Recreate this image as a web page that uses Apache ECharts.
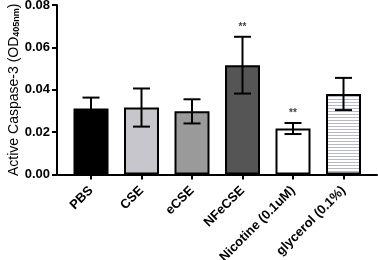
<!DOCTYPE html>
<html>
<head>
<meta charset="utf-8">
<script src="https://cdn.jsdelivr.net/npm/echarts@6/dist/echarts.min.js"></script>
<style>
    html, body { margin:0; padding:0; background:#fff; }
    #chart { width:378px; height:260px; }
</style>
</head>
<body>
<div id="chart"></div>
<script>
var categories = ['PBS', 'CSE', 'eCSE', 'NFeCSE', 'Nicotine (0.1uM)', 'glycerol (0.1%)'];
var means = [0.0311, 0.0316, 0.0298, 0.0516, 0.0217, 0.0380];
var errors = [0.0052, 0.0090, 0.0057, 0.0134, 0.0026, 0.0076];
var marks = ['', '', '', '**', '**', ''];
var yTicks = [0, 0.02, 0.04, 0.06, 0.08];

// 横条纹填充
function stripes(){
    var c = document.createElement('canvas');
    c.width = 4;
    c.height = 3;
    var ctx = c.getContext('2d');
    ctx.fillStyle = '#ffffff';
    ctx.fillRect(0, 0, 4, 3);
    ctx.fillStyle = '#b8b8c6';
    ctx.fillRect(0, 0, 4, 1);
    return {image: c, repeat: 'repeat'};
}

var fills = ['#000000', '#c6c6cc', '#9a9a9a', '#555555', '#ffffff', stripes()];

var barData = [];
var errData = [];
means.forEach(function(m, i){
    barData.push({value: m, itemStyle: {color: fills[i]}});
    errData.push([i, m + errors[i], m - errors[i], marks[i]]);
});

function renderError(params, api){
    var x = api.value(0);
    var top = api.coord([x, api.value(1)]);
    var bot = api.coord([x, api.value(2)]);
    var half = 8.5;
    var style = {stroke: '#000', lineWidth: 2};
    var children = [
        {type: 'line', shape: {x1: top[0], y1: top[1], x2: bot[0], y2: bot[1]}, style: style},
        {type: 'line', shape: {x1: top[0] - half, y1: top[1], x2: top[0] + half, y2: top[1]}, style: style},
        {type: 'line', shape: {x1: bot[0] - half, y1: bot[1], x2: bot[0] + half, y2: bot[1]}, style: style}
    ];
    var mark = marks[params.dataIndex];
    if(mark){
        children.push({
            type: 'text',
            style: {
                text: mark, x: top[0], y: top[1] - 5,
                align: 'center', verticalAlign: 'bottom',
                font: 'bold 10px "Liberation Sans", Arial, sans-serif', fill: '#444'
            }
        });
    }
    return {type: 'group', children: children};
}

var font = '"Liberation Sans", Arial, sans-serif';
var myChart = echarts.init(document.getElementById('chart'));
var option = {
    animation: false,
    grid: [
        {left: 65.75, right: 9.25, top: 5, bottom: 85.5, outerBoundsMode: 'none'},
        {left: 57, right: 1, top: 5, bottom: 85.5, outerBoundsMode: 'none'}
    ],
    xAxis: [
        {
            type: 'category', gridIndex: 0, data: categories,
            axisLine: {show: false},
            axisTick: {show: true, alignWithLabel: true, length: 5, lineStyle: {color: '#000', width: 2}},
            axisLabel: {
                rotate: 45, margin: 14, color: '#000', fontSize: 13, fontWeight: 'bold',
                fontFamily: font, interval: 0, hideOverlap: false
            }
        },
        {
            type: 'value', gridIndex: 1, min: 0, max: 1,
            axisLine: {show: true, lineStyle: {color: '#000', width: 2}},
            axisTick: {show: false}, axisLabel: {show: false}, splitLine: {show: false}
        }
    ],
    yAxis: [
        {type: 'value', gridIndex: 0, min: 0, max: 0.08, show: false},
        {
            type: 'value', gridIndex: 1, min: yTicks[0], max: yTicks[yTicks.length - 1], interval: 0.02,
            name: '{a|Active Caspase-3 (OD}{s|405nm}{a|)}',
            nameLocation: 'middle', nameGap: 36, nameMoveOverlap: false,
            nameTextStyle: {
                rich: {
                    a: {fontSize: 14, color: '#000', fontFamily: font},
                    s: {fontSize: 9, color: '#000', fontFamily: font, fontWeight: 'bold', padding: [0, 0, -6, 0]}
                }
            },
            axisLine: {show: true, lineStyle: {color: '#000', width: 2}},
            axisTick: {show: true, length: 5, lineStyle: {color: '#000', width: 2}},
            axisLabel: {
                margin: 7, color: '#000', fontSize: 13, fontWeight: 'bold', fontFamily: font,
                formatter: function(v){ return v.toFixed(2); }
            },
            splitLine: {show: false}
        }
    ],
    series: [
        {
            type: 'bar', xAxisIndex: 0, yAxisIndex: 0, data: barData, barWidth: 35,
            itemStyle: {borderColor: '#000', borderWidth: 2}
        },
        {
            type: 'custom', xAxisIndex: 0, yAxisIndex: 0, data: errData,
            renderItem: renderError, z: 3
        }
    ]
};
myChart.setOption(option);
</script>
</body>
</html>
